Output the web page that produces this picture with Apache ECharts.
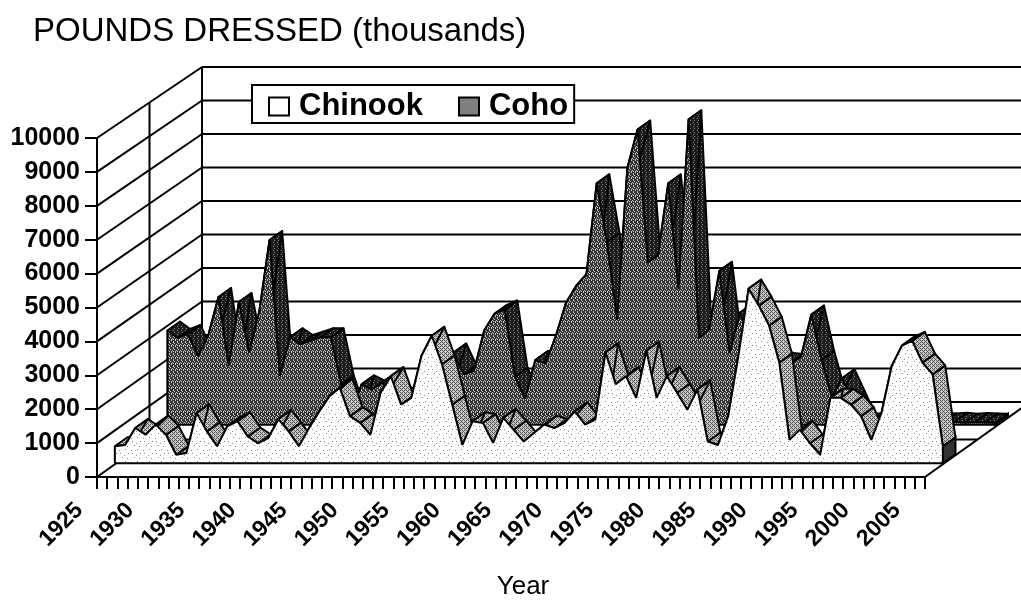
<!DOCTYPE html>
<html>
<head>
<meta charset="utf-8">
<title>Pounds dressed</title>
<style>
  html, body { margin: 0; padding: 0; background: #fff; }
  #chart { width: 1021px; height: 601px; }
</style>
<script src="https://cdn.jsdelivr.net/npm/echarts@6/dist/echarts.min.js"></script>
</head>
<body>
<div id="chart"></div>
<script>
const years = Array.from({ length: 82 }, (_, i) => String(1925 + i))
const yTicks = [0, 1000, 2000, 3000, 4000, 5000, 6000, 7000, 8000, 9000, 10000]

const chinook = [
  500, 540, 1040, 840, 1140, 840, 250, 300, 1480, 940,
  500, 1090, 1240, 790, 590, 740, 1300, 940, 500, 1040,
  1530, 1980, 2230, 1390, 1190, 840, 2080, 2570, 1730, 1930,
  3170, 3760, 2920, 1730, 540, 1240, 1190, 600, 1340, 990,
  640, 890, 1140, 1040, 1190, 1530, 1140, 1290, 3270, 2330,
  2570, 1930, 3320, 1930, 2570, 2080, 1580, 2180, 640, 540,
  1390, 3170, 5150, 4650, 4060, 2970, 690, 990, 590, 250,
  1930, 1930, 1730, 1390, 690, 1490, 2870, 3470, 3610, 2970,
  2620, 500
]
const coho = [
  2780, 2560, 2680, 2030, 2630, 3770, 1740, 3620, 2130, 3350,
  5450, 1440, 2580, 2380, 2480, 2580, 2580, 1190, 300, 1190,
  1040, 1240, 900, 800, 700, 800, 900, 1100, 2130, 1490,
  1590, 2780, 3270, 3400, 1420, 770, 1910, 1810, 2610, 3600,
  4100, 4440, 7120, 5390, 3100, 7570, 8710, 4790, 4990, 7120,
  4000, 9010, 2560, 2810, 4540, 2110, 3300, 2600, 2300, 2050,
  1850, 1820, 2010, 3250, 1910, 820, 1370, 720, 60, 80,
  70, 60, 90, 70, 60, 80, 70, 90, 60, 80,
  70, 60
]

// small dither tiles, the scan is all black dots on white
function tile(rows, dark, light) {
  const c = document.createElement('canvas')
  c.width = rows[0].length
  c.height = rows.length
  const ctx = c.getContext('2d')
  rows.forEach((row, y) => {
    row.split('').forEach((ch, x) => {
      ctx.fillStyle = ch === '#' ? dark : light
      ctx.fillRect(x, y, 1, 1)
    })
  })
  return { image: c, repeat: 'repeat' }
}

const chinookFace = tile([
  '............',
  '..#.........',
  '.......#....',
  '............',
  '............',
  '.....#......',
  '...........#',
  '............',
  '............',
  '#.......#...',
  '............',
  '....#.......'
], '#8a8a8a', '#fff')
const chinookTop = tile(['#.#.', '.#..', '#.#.', '...#'], '#555', '#c8c8c8')
const cohoFace = tile(['#.##', '##.#', '.###', '#.#.', '###.', '#.##'], '#333', '#c4c4c4')
const cohoTop = tile(['##.#', '####', '#.##', '####'], '#1c1c1c', '#888')
const legendCoho = tile(['#.#.', '.#.#', '#.#.', '.#.#'], '#444', '#bbb')
const capFill = '#333'

// floor depth on screen, front to back
const depthX = 105
const depthY = -75
const gridLeft = 97
const gridTop = 138
const gridRight = 96
const gridBottom = 124
const chinookDepth = 0.17
const cohoDepth = 0.67
const bandDepth = 0.12

function grid(d, lift) {
  return {
    left: gridLeft + d * depthX,
    top: gridTop + d * depthY - lift,
    right: gridRight - d * depthX,
    bottom: gridBottom - d * depthY + lift,
    outerBoundsMode: 'none',
    containLabel: false
  }
}

function hiddenX(gridIndex) {
  return { type: 'category', gridIndex, data: years, boundaryGap: false, show: false }
}
function hiddenY(gridIndex) {
  return { type: 'value', gridIndex, min: 0, max: 10000, interval: 1000, show: false }
}

const blackLine = { stroke: '#000', lineWidth: 2, fill: 'none' }

function seg(a, b) {
  return { type: 'line', shape: { x1: a[0], y1: a[1], x2: b[0], y2: b[1] }, style: blackLine }
}

// walls and floor, hung on the main axes
function renderWalls(params, api) {
  const v = api.value(0)
  const last = years.length - 1
  const front = api.coord([0, v])
  const right = api.coord([last, v])
  const back = d => d * (depthY + 4 * v / 10000)
  const kids = [
    seg(front, [front[0] + depthX, front[1] + back(1)]),
    seg([front[0] + depthX, front[1] + back(1)], [right[0] + depthX, right[1] + back(1)])
  ]
  if (v === 0) {
    const top = api.coord([0, 10000])
    const rightEdge = [right[0] + depthX, right[1] + depthY]
    kids.push(seg(right, rightEdge))
    kids.push(seg([front[0] + depthX, front[1] + depthY], [top[0] + depthX, top[1] + depthY + 4]))
    kids.push(seg([front[0] + depthX / 2, front[1] + depthY / 2], [top[0] + depthX / 2, top[1] + depthY / 2 + 2]))
    kids.push(seg([front[0] + depthX / 2, front[1] + depthY / 2], [right[0] + depthX / 2, right[1] + depthY / 2]))
  }
  return { type: 'group', children: kids }
}

function layer(name, values, gridIndex, topFill, faceFill, z) {
  const ox = bandDepth * depthX
  const oy = bandDepth * depthY
  const last = values.length - 1
  const pairs = values.map((v, i) => [i, v])
  return [
    {
      name: name + ' top',
      type: 'custom',
      xAxisIndex: gridIndex,
      yAxisIndex: gridIndex,
      z,
      silent: true,
      clip: false,
      data: pairs,
      encode: { x: 0, y: 1 },
      renderItem(params, api) {
        const i = api.value(0)
        const a = api.coord([i, values[i]])
        if (i === last) {
          // end cap at the right of the band
          const b = api.coord([i, 0])
          return {
            type: 'polygon',
            shape: { points: [a, [a[0] + ox, a[1] + oy], [b[0] + ox, b[1] + oy], b] },
            style: { fill: capFill, stroke: '#000', lineWidth: 2 }
          }
        }
        const b = api.coord([i + 1, values[i + 1]])
        return {
          type: 'polygon',
          z2: last - i,
          shape: { points: [a, b, [b[0] + ox, b[1] + oy], [a[0] + ox, a[1] + oy]] },
          style: { fill: topFill, stroke: '#000', lineWidth: 2, lineJoin: 'round' }
        }
      }
    },
    {
      name,
      type: 'line',
      xAxisIndex: gridIndex,
      yAxisIndex: gridIndex,
      z: z + 1,
      silent: true,
      data: values,
      symbol: 'none',
      itemStyle: { color: faceFill === chinookFace ? '#fff' : '#555' },
      lineStyle: { color: '#000', width: 2 },
      areaStyle: { color: faceFill, opacity: 1 }
    },
    {
      name: name + ' base',
      type: 'custom',
      xAxisIndex: gridIndex,
      yAxisIndex: gridIndex,
      z: z + 2,
      silent: true,
      data: [[0, values[0]], [last, values[last]]],
      encode: { x: 0, y: 1 },
      renderItem(params, api) {
        const i = api.value(0)
        const p = api.coord([i, api.value(1)])
        const q = api.coord([i, 0])
        const kids = [seg(p, q)]
        if (i === 0) kids.push(seg(q, api.coord([last, 0])))
        return { type: 'group', children: kids }
      }
    }
  ]
}

const chart = echarts.init(document.getElementById('chart'))

chart.setOption({
  animation: false,
  backgroundColor: '#fff',
  textStyle: { fontFamily: 'Liberation Sans' },
  title: {
    text: 'POUNDS DRESSED (thousands)',
    left: 28,
    top: 10,
    textStyle: { fontSize: 33, fontWeight: 'normal', color: '#000' }
  },
  legend: {
    left: 252,
    top: 85,
    padding: [6, 6, 1, 16],
    z: 20,
    selectedMode: false,
    backgroundColor: '#fff',
    borderColor: '#000',
    borderWidth: 2,
    itemWidth: 20,
    itemHeight: 18,
    itemGap: 35,
    textStyle: { fontSize: 31, fontWeight: 'bold', color: '#000', padding: [0, 0, 0, 5] },
    data: [
      { name: 'Chinook', icon: 'rect', itemStyle: { color: '#fff', borderColor: '#000', borderWidth: 2 } },
      { name: 'Coho', icon: 'rect', itemStyle: { color: legendCoho, borderColor: '#000', borderWidth: 2 } }
    ]
  },
  grid: [grid(0, 0), grid(chinookDepth, 1), grid(cohoDepth, 2)],
  xAxis: [
    {
      type: 'category',
      gridIndex: 0,
      data: years,
      boundaryGap: false,
      name: 'Year',
      nameLocation: 'middle',
      nameGap: 97,
      nameTextStyle: { fontSize: 26, color: '#000', padding: [0, 0, 0, 24] },
      axisLine: { lineStyle: { color: '#000', width: 2 } },
      axisTick: { alignWithLabel: true, interval: 0, length: 12, lineStyle: { color: '#000', width: 2 } },
      axisLabel: {
        interval: 4,
        rotate: 45,
        margin: 12,
        padding: [0, 25, 0, 0],
        fontSize: 23,
        fontWeight: 'bold',
        color: '#000'
      },
      splitLine: { show: false }
    },
    hiddenX(1),
    hiddenX(2)
  ],
  yAxis: [
    {
      type: 'value',
      gridIndex: 0,
      min: yTicks[0],
      max: yTicks[yTicks.length - 1],
      interval: 1000,
      axisLine: { show: true, lineStyle: { color: '#000', width: 2 } },
      axisTick: { show: true, length: 12, lineStyle: { color: '#000', width: 2 } },
      axisLabel: { margin: 17, fontSize: 25, fontWeight: 'bold', color: '#000', formatter: v => String(v) },
      splitLine: { show: false }
    },
    hiddenY(1),
    hiddenY(2)
  ],
  series: [
    {
      name: 'walls',
      type: 'custom',
      xAxisIndex: 0,
      yAxisIndex: 0,
      z: 1,
      silent: true,
      clip: false,
      data: yTicks.map(v => [v]),
      encode: { y: 0 },
      renderItem: renderWalls
    },
    ...layer('Coho', coho, 2, cohoTop, cohoFace, 2),
    ...layer('Chinook', chinook, 1, chinookTop, chinookFace, 6)
  ]
})
</script>
</body>
</html>
